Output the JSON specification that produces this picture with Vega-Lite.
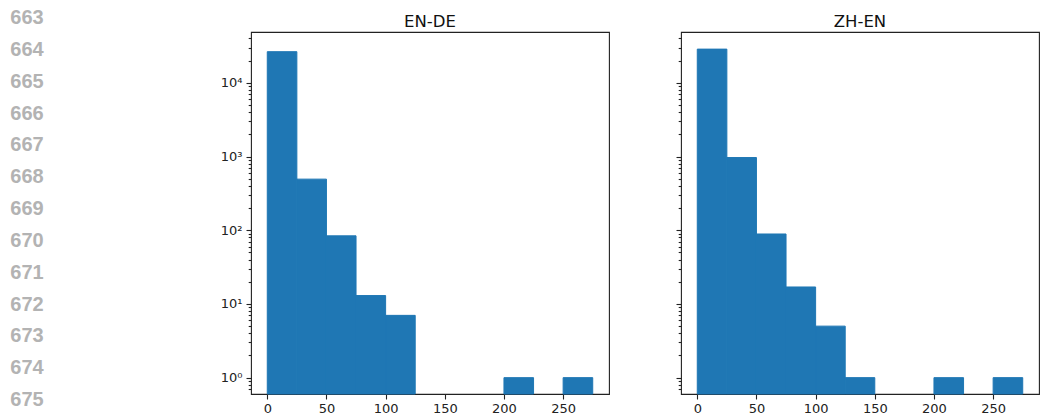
{
  "$schema": "https://vega.github.io/schema/vega-lite/v6.json",
  "padding": {"left": 0, "top": 7, "right": 0, "bottom": 0},
  "background": "white",
  "bounds": "flush",
  "spacing": 197,
  "config": {
    "view": {"stroke": "#222", "strokeWidth": 1.1},
    "axis": {"labelFont": "DejaVu Sans", "labelFontSize": 13, "labelColor": "#222", "tickColor": "#222", "tickWidth": 1.1, "domain": false, "grid": false, "title": null},
    "title": {"font": "DejaVu Sans", "fontSize": 16.5, "fontWeight": "normal", "color": "#111", "frame": "group", "offset": 2, "baseline": "alphabetic"}
  },
  "datasets": {
    "lines": [
      {"line": 663}, {"line": 664}, {"line": 665}, {"line": 666}, {"line": 667},
      {"line": 668}, {"line": 669}, {"line": 670}, {"line": 671}, {"line": 672},
      {"line": 673}, {"line": 674}, {"line": 675}
    ],
    "bins": [
      {"panel": "EN-DE", "start": 0, "end": 25, "count": 26500},
      {"panel": "EN-DE", "start": 25, "end": 50, "count": 494},
      {"panel": "EN-DE", "start": 50, "end": 75, "count": 84},
      {"panel": "EN-DE", "start": 75, "end": 100, "count": 13},
      {"panel": "EN-DE", "start": 100, "end": 125, "count": 7},
      {"panel": "EN-DE", "start": 200, "end": 225, "count": 1},
      {"panel": "EN-DE", "start": 250, "end": 275, "count": 1},
      {"panel": "ZH-EN", "start": 0, "end": 25, "count": 28700},
      {"panel": "ZH-EN", "start": 25, "end": 50, "count": 970},
      {"panel": "ZH-EN", "start": 50, "end": 75, "count": 89},
      {"panel": "ZH-EN", "start": 75, "end": 100, "count": 17},
      {"panel": "ZH-EN", "start": 100, "end": 125, "count": 5},
      {"panel": "ZH-EN", "start": 125, "end": 150, "count": 1},
      {"panel": "ZH-EN", "start": 200, "end": 225, "count": 1},
      {"panel": "ZH-EN", "start": 250, "end": 275, "count": 1}
    ]
  },
  "hconcat": [
    {
      "width": 54,
      "height": 362,
      "view": {"stroke": null},
      "data": {"name": "lines"},
      "mark": {"type": "text", "font": "Liberation Sans", "fontWeight": "bold", "fontSize": 20, "color": "#b3b3b3", "baseline": "middle", "align": "center"},
      "encoding": {
        "y": {"field": "line", "type": "quantitative", "scale": {"domain": [663.44, 674.81], "reverse": true, "nice": false, "zero": false}, "axis": null},
        "text": {"field": "line", "type": "nominal"}
      }
    },
    {
      "bounds": "flush",
      "spacing": 72,
      "hconcat": [
        {
          "width": 358,
          "height": 362,
          "title": "EN-DE",
          "data": {"name": "bins"},
          "transform": [{"filter": "datum.panel === 'EN-DE'"}],
          "mark": {"type": "bar", "color": "#1f77b4", "stroke": "#1f77b4", "strokeWidth": 1},
          "encoding": {
            "x": {"field": "start", "type": "quantitative", "scale": {"domain": [-13.75, 288.75], "nice": false, "zero": false},
                  "axis": {"values": [0, 50, 100, 150, 200, 250], "tickSize": 5, "labelPadding": 3}},
            "x2": {"field": "end"},
            "y": {"field": "count", "type": "quantitative", "scale": {"type": "log", "domain": [0.6, 49000], "nice": false},
                  "axis": {"values": [0.7,0.8,0.9,1,2,3,4,5,6,7,8,9,10,20,30,40,50,60,70,80,90,100,200,300,400,500,600,700,800,900,1000,2000,3000,4000,5000,6000,7000,8000,9000,10000,20000,30000,40000],
                           "labelOverlap": false,
                           "labelExpr": "abs(log(datum.value)/LN10 - round(log(datum.value)/LN10)) < 0.001 ? '10' + ['⁰','¹','²','³','⁴'][round(log(datum.value)/LN10)] : ''",
                           "tickSize": {"condition": {"test": "abs(log(datum.value)/LN10 - round(log(datum.value)/LN10)) < 0.001", "value": 5}, "value": 2.8},
                           "labelPadding": 4}},
            "y2": {"datum": 0.6}
          }
        },
        {
          "width": 358,
          "height": 362,
          "title": "ZH-EN",
          "data": {"name": "bins"},
          "transform": [{"filter": "datum.panel === 'ZH-EN'"}],
          "mark": {"type": "bar", "color": "#1f77b4", "stroke": "#1f77b4", "strokeWidth": 1},
          "encoding": {
            "x": {"field": "start", "type": "quantitative", "scale": {"domain": [-13.75, 288.75], "nice": false, "zero": false},
                  "axis": {"values": [0, 50, 100, 150, 200, 250], "tickSize": 5, "labelPadding": 3}},
            "x2": {"field": "end"},
            "y": {"field": "count", "type": "quantitative", "scale": {"type": "log", "domain": [0.6, 49000], "nice": false},
                  "axis": {"values": [0.7,0.8,0.9,1,2,3,4,5,6,7,8,9,10,20,30,40,50,60,70,80,90,100,200,300,400,500,600,700,800,900,1000,2000,3000,4000,5000,6000,7000,8000,9000,10000,20000,30000,40000],
                           "labels": false,
                           "tickSize": {"condition": {"test": "abs(log(datum.value)/LN10 - round(log(datum.value)/LN10)) < 0.001", "value": 5}, "value": 2.8}}},
            "y2": {"datum": 0.6}
          }
        }
      ]
    }
  ]
}
